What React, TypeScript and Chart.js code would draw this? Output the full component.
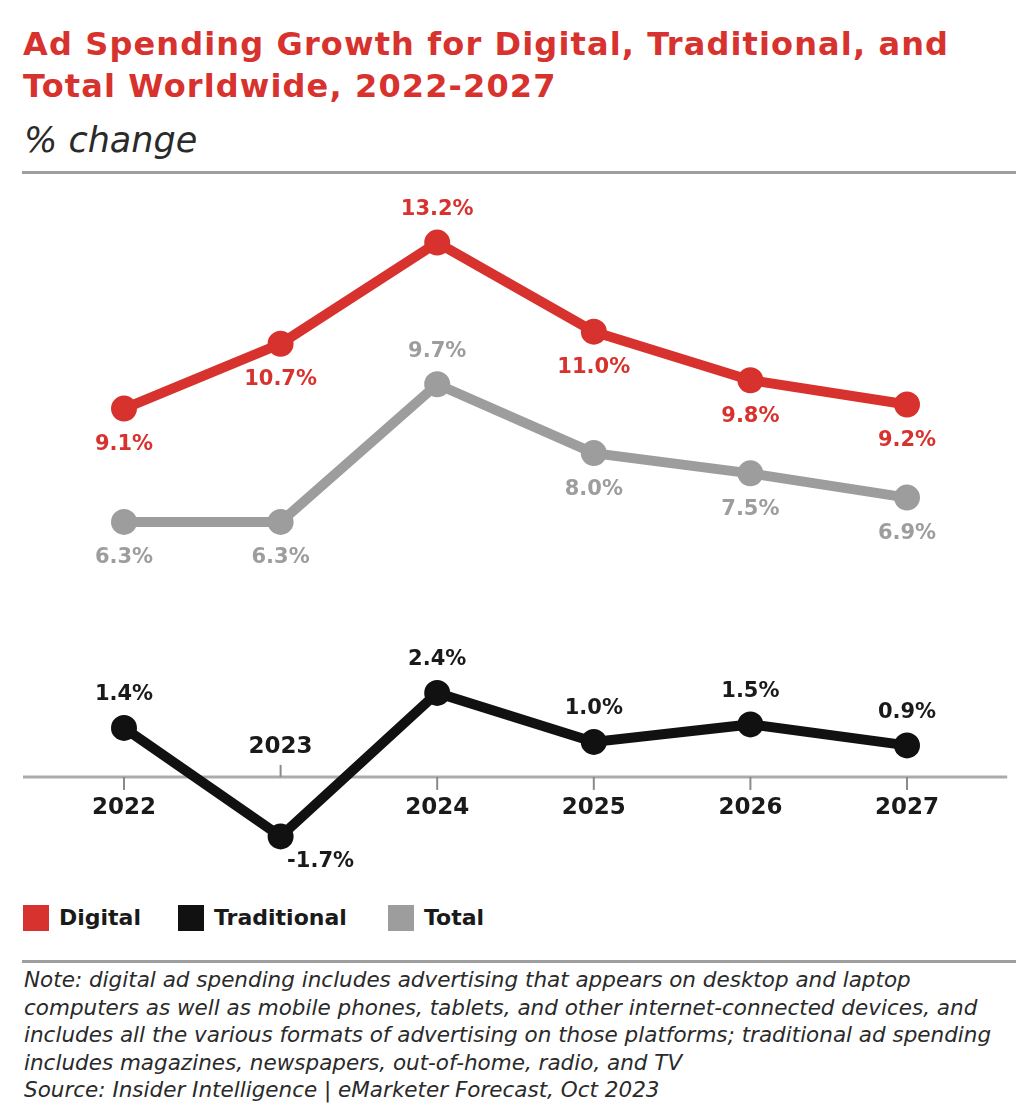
import React, { useEffect, useRef } from 'react';
import { Chart, registerables } from 'chart.js';

Chart.register(...registerables);

// ---------- data ----------
const years = ['2022', '2023', '2024', '2025', '2026', '2027'];
const digital = [9.1, 10.7, 13.2, 11.0, 9.8, 9.2];
const traditional = [1.4, -1.7, 2.4, 1.0, 1.5, 0.9];
const total = [6.3, 6.3, 9.7, 8.0, 7.5, 6.9];
const seriesNames = ['Digital', 'Traditional', 'Total'];

// ---------- style ----------
const RED = '#d7322d';
const BLACK = '#111111';
const GRAY = '#9d9d9d';
const AXIS = '#ababab';
const FONT = '"DejaVu Sans", sans-serif';

// label placement per point (style only)
const digitalPos = ['below', 'below', 'above', 'below', 'below', 'below'];
const totalPos = ['below', 'below', 'above', 'below', 'below', 'below'];
const tradPos = ['above', 'belowRight', 'above', 'above', 'above', 'above'];

const fmt = (v: number) => v.toFixed(1) + '%';

const labelPlugin = {
  id: 'customDecor',
  beforeDatasetsDraw(chart: any) {
    const { ctx } = chart;
    const x = chart.scales.x;
    const y = chart.scales.y;
    const y0 = y.getPixelForValue(0);
    ctx.save();
    ctx.strokeStyle = AXIS;
    ctx.lineWidth = 3;
    ctx.beginPath();
    ctx.moveTo(x.getPixelForValue(-0.645), y0);
    ctx.lineTo(x.getPixelForValue(5.64), y0);
    ctx.stroke();
    ctx.lineWidth = 2;
    ctx.strokeStyle = '#8a8a8a';
    ctx.font = `bold 23px ${FONT}`;
    ctx.fillStyle = '#1a1a1a';
    ctx.textAlign = 'center';
    ctx.textBaseline = 'middle';
    years.forEach((yr, i) => {
      const xi = x.getPixelForValue(i);
      const up = traditional[i] < 0;
      ctx.beginPath();
      ctx.moveTo(xi, y0);
      ctx.lineTo(xi, up ? y0 - 12 : y0 + 13);
      ctx.stroke();
      ctx.fillText(yr, xi, up ? y0 - 30 : y0 + 31);
    });
    ctx.restore();
  },
  afterDatasetsDraw(chart: any) {
    const { ctx } = chart;
    const specs = [
      { values: digital, pos: digitalPos, color: RED },
      { values: traditional, pos: tradPos, color: '#1a1a1a' },
      { values: total, pos: totalPos, color: GRAY },
    ];
    ctx.save();
    ctx.font = `bold 21px ${FONT}`;
    ctx.textAlign = 'center';
    ctx.textBaseline = 'middle';
    specs.forEach((s, di) => {
      const meta = chart.getDatasetMeta(di);
      ctx.fillStyle = s.color;
      meta.data.forEach((pt: any, i: number) => {
        const p = s.pos[i];
        let dx = 0;
        let dy = 0;
        if (p === 'above') dy = -33;
        else if (p === 'below') dy = 36;
        else if (p === 'belowRight') {
          dx = 40;
          dy = 25;
        }
        ctx.fillText(fmt(s.values[i]), pt.x + dx, pt.y + dy);
      });
    });
    ctx.restore();
  },
};

function LineChart() {
  const ref = useRef<HTMLCanvasElement>(null);
  useEffect(() => {
    if (!ref.current) return;
    const mk = (label: string, data: number[], color: string, axis: string) => ({
      label,
      data,
      borderColor: color,
      backgroundColor: color,
      borderWidth: 10,
      pointRadius: 12,
      pointBorderWidth: 2,
      pointBorderColor: color,
      pointBackgroundColor: color,
      tension: 0,
      clip: false as any,
      yAxisID: axis,
    });
    const chart = new Chart(ref.current, {
      type: 'line',
      data: {
        labels: years,
        datasets: [
          mk(seriesNames[0], digital, RED, 'y'),
          mk(seriesNames[1], traditional, BLACK, 'y2'),
          mk(seriesNames[2], total, GRAY, 'y'),
        ],
      },
      options: {
        animation: false,
        responsive: false,
        maintainAspectRatio: false,
        layout: { padding: { top: 190, bottom: 30, left: 124, right: 125 } },
        plugins: {
          legend: { display: false },
          tooltip: { enabled: false },
          title: { display: false },
        },
        scales: {
          x: { type: 'category', offset: false, display: false },
          y: { min: -2.3, max: 14.5, display: false },
          y2: { min: -2.66, max: 16.77, display: false },
        },
      },
      plugins: [labelPlugin],
    });
    return () => chart.destroy();
  }, []);
  return (
    <canvas
      ref={ref}
      width={1032}
      height={900}
      style={{ position: 'absolute', left: 0, top: 0, width: 1032, height: 900 }}
    />
  );
}

const legendColors = [RED, BLACK, GRAY];
const legendLefts = [23, 178, 388];

export default function App() {
  return (
    <div
      style={{
        position: 'absolute',
        left: 0,
        top: 0,
        width: 1032,
        height: 1104,
        background: '#fff',
        overflow: 'hidden',
        fontFamily: FONT,
      }}
    >
      <div
        style={{
          position: 'absolute',
          left: 23,
          top: 23,
          fontSize: 32,
          lineHeight: '42px',
          fontWeight: 'bold',
          letterSpacing: 1.13,
          color: RED,
          whiteSpace: 'nowrap',
        }}
      >
        Ad Spending Growth for Digital, Traditional, and
        <br />
        Total Worldwide, 2022-2027
      </div>
      <div
        style={{
          position: 'absolute',
          left: 24,
          top: 120,
          fontSize: 35,
          lineHeight: '40px',
          fontStyle: 'italic',
          color: '#2a2a2a',
        }}
      >
        % change
      </div>
      <div style={{ position: 'absolute', left: 22, top: 171, width: 994, height: 3, background: '#9e9e9e' }} />
      <LineChart />
      {seriesNames.map((n, i) => (
        <div key={n} style={{ position: 'absolute', left: legendLefts[i], top: 905, height: 26, display: 'flex' }}>
          <div style={{ width: 26, height: 26, background: legendColors[i] }} />
          <div
            style={{
              marginLeft: 10,
              fontSize: 22,
              lineHeight: '26px',
              fontWeight: 'bold',
              color: '#1a1a1a',
              whiteSpace: 'nowrap',
            }}
          >
            {n}
          </div>
        </div>
      ))}
      <div style={{ position: 'absolute', left: 22, top: 960, width: 994, height: 3, background: '#9e9e9e' }} />
      <div
        style={{
          position: 'absolute',
          left: 24,
          top: 966,
          fontFamily: FONT,
          fontStyle: 'italic',
          fontSize: 21.5,
          lineHeight: '27.5px',
          color: '#2a2a2a',
          whiteSpace: 'nowrap',
        }}
      >
        Note: digital ad spending includes advertising that appears on desktop and laptop
        <br />
        computers as well as mobile phones, tablets, and other internet-connected devices, and
        <br />
        includes all the various formats of advertising on those platforms; traditional ad spending
        <br />
        includes magazines, newspapers, out-of-home, radio, and TV
        <br />
        Source: Insider Intelligence | eMarketer Forecast, Oct 2023
      </div>
    </div>
  );
}
